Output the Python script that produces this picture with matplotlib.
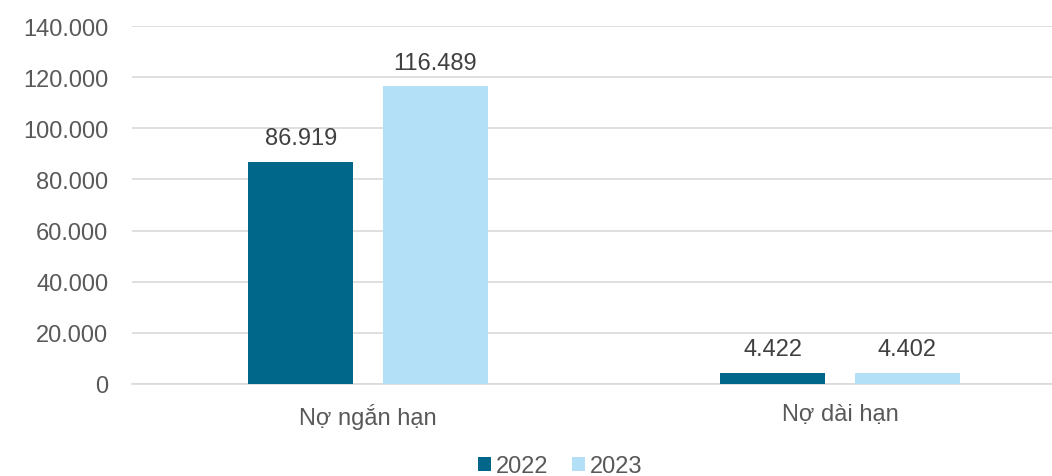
import numpy as np
import matplotlib.pyplot as plt
from matplotlib.ticker import FuncFormatter

plt.rcParams['font.family'] = ['Liberation Sans', 'DejaVu Sans']

categories = ["Nợ ngắn hạn", "Nợ dài hạn"]
years = ["2022", "2023"]
values_2022 = [86919, 4422]
values_2023 = [116489, 4402]
yticks = [0, 20000, 40000, 60000, 80000, 100000, 120000, 140000]

colors = ["#00678A", "#B3E0F7"]
text_color = "#595959"
grid_color = "#D9D9D9"


def fmt_thousands(v):
    return f"{int(round(v)):,}".replace(",", ".")


fig = plt.figure(figsize=(10.52, 4.77), dpi=100)
# axes runs a bit past the right edge, like the cropped original
ax = fig.add_axes([132 / 1052, 92 / 477, 944 / 1052, 358 / 477])

x = np.arange(len(categories))
width = 0.2225
offset = 0.1425
for vals, col, lab, sign in [(values_2022, colors[0], years[0], -1),
                             (values_2023, colors[1], years[1], 1)]:
    bars = ax.bar(x + sign * offset, vals, width, color=col, label=lab, zorder=3)
    for b, v in zip(bars, vals):
        ax.annotate(fmt_thousands(v), (b.get_x() + b.get_width() / 2, v),
                    xytext=(0, 9), textcoords="offset points",
                    ha="center", va="bottom", fontsize=17, color="#404040")

ax.set_xlim(-0.5, 1.5)
ax.set_ylim(0, 140000)
ax.set_yticks(yticks)
ax.yaxis.set_major_formatter(FuncFormatter(lambda v, p: fmt_thousands(v)))
ax.set_xticks(x)
ax.set_xticklabels(categories)
ax.tick_params(axis="y", length=0, pad=17, labelsize=17, labelcolor=text_color)
ax.tick_params(axis="x", length=0, pad=14, labelsize=17, labelcolor=text_color)
ax.grid(axis="y", color=grid_color, linewidth=1.2, zorder=0)
for s in ["top", "right", "left"]:
    ax.spines[s].set_visible(False)
ax.spines["bottom"].set_color(grid_color)
ax.spines["bottom"].set_linewidth(1.2)

fig.legend(loc="center", bbox_to_anchor=(560 / 1052, 1 - 467 / 477),
           ncol=2, frameon=False, fontsize=17, labelcolor=text_color,
           handlelength=0.55, handleheight=0.55, handletextpad=0.2,
           columnspacing=1.0)

fig.savefig("out.png", dpi=100)
